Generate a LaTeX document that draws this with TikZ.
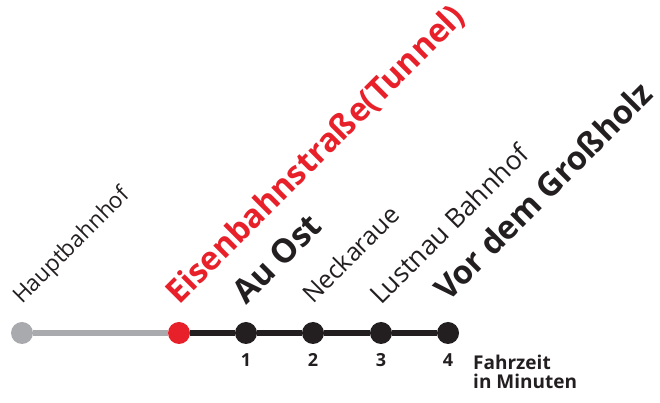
\documentclass[tikz,border=0pt]{standalone}
\usepackage{fontspec}
\setmainfont{Open Sans}
\usetikzlibrary{positioning}
\definecolor{linered}{HTML}{E8202A}
\definecolor{linegray}{HTML}{A8AAAD}
\definecolor{lineblack}{HTML}{231F20}
\begin{document}
\begin{tikzpicture}[x=1pt,y=1pt,
    halt/.style={circle,fill=lineblack,minimum size=22pt,inner sep=0pt},
    stopname/.style={rotate=45,anchor=base west,inner sep=0pt,text=lineblack,font=\fontsize{#1}{#1}\selectfont},
    bigstop/.style={rotate=45,anchor=base west,inner sep=0pt,text=lineblack,font=\fontsize{#1}{#1}\bfseries\selectfont},
    minute/.style={below=9pt,inner sep=0pt,text=lineblack,font=\fontsize{18}{20}\bfseries\selectfont}]
    \useasboundingbox (0,0) rectangle (660,403);
    \node[halt,fill=linegray] (hbf) at (22,70) {};
    \node[halt,fill=linered] (eis) at (179,70) {};
    \node[halt] (ost) at (246,70) {};
    \node[halt] (neck) at (313,70) {};
    \node[halt] (lust) at (381,70) {};
    \node[halt] (gross) at (448,70) {};
    \draw[linegray,line width=6pt] (hbf) -- (eis);
    \draw[lineblack,line width=6pt] (eis) -- (ost) -- (neck) -- (lust) -- (gross);
    \node[stopname=22.5] (hbfname) at ([yshift=28pt]hbf.center) {Hauptbahnhof};
    \node[bigstop=32.5,text=linered] (eisname) at ([yshift=27pt]eis.center) {Eisenbahnstraße(Tunnel)};
    \node[bigstop=33] (ostname) at ([yshift=27pt]ost.center) {Au Ost};
    \node[stopname=25] (neckname) at ([yshift=28pt]neck.center) {Neckaraue};
    \node[stopname=26.5] (lustname) at ([yshift=27pt]lust.center) {Lustnau Bahnhof};
    \node[bigstop=32.5] (grossname) at ([yshift=30pt]gross.center) {Vor dem Großholz};
    \node[minute] (m1) at (ost.south) {1};
    \node[minute] (m2) at (neck.south) {2};
    \node[minute] (m3) at (lust.south) {3};
    \node[minute] (m4) at (gross.south) {4};
    \node[anchor=north west,inner sep=0pt,align=left,text=lineblack,
        font=\fontsize{19}{19}\bfseries\selectfont] (fahrzeit) at (473,48) {Fahrzeit\\in Minuten};
\end{tikzpicture}
\end{document}
